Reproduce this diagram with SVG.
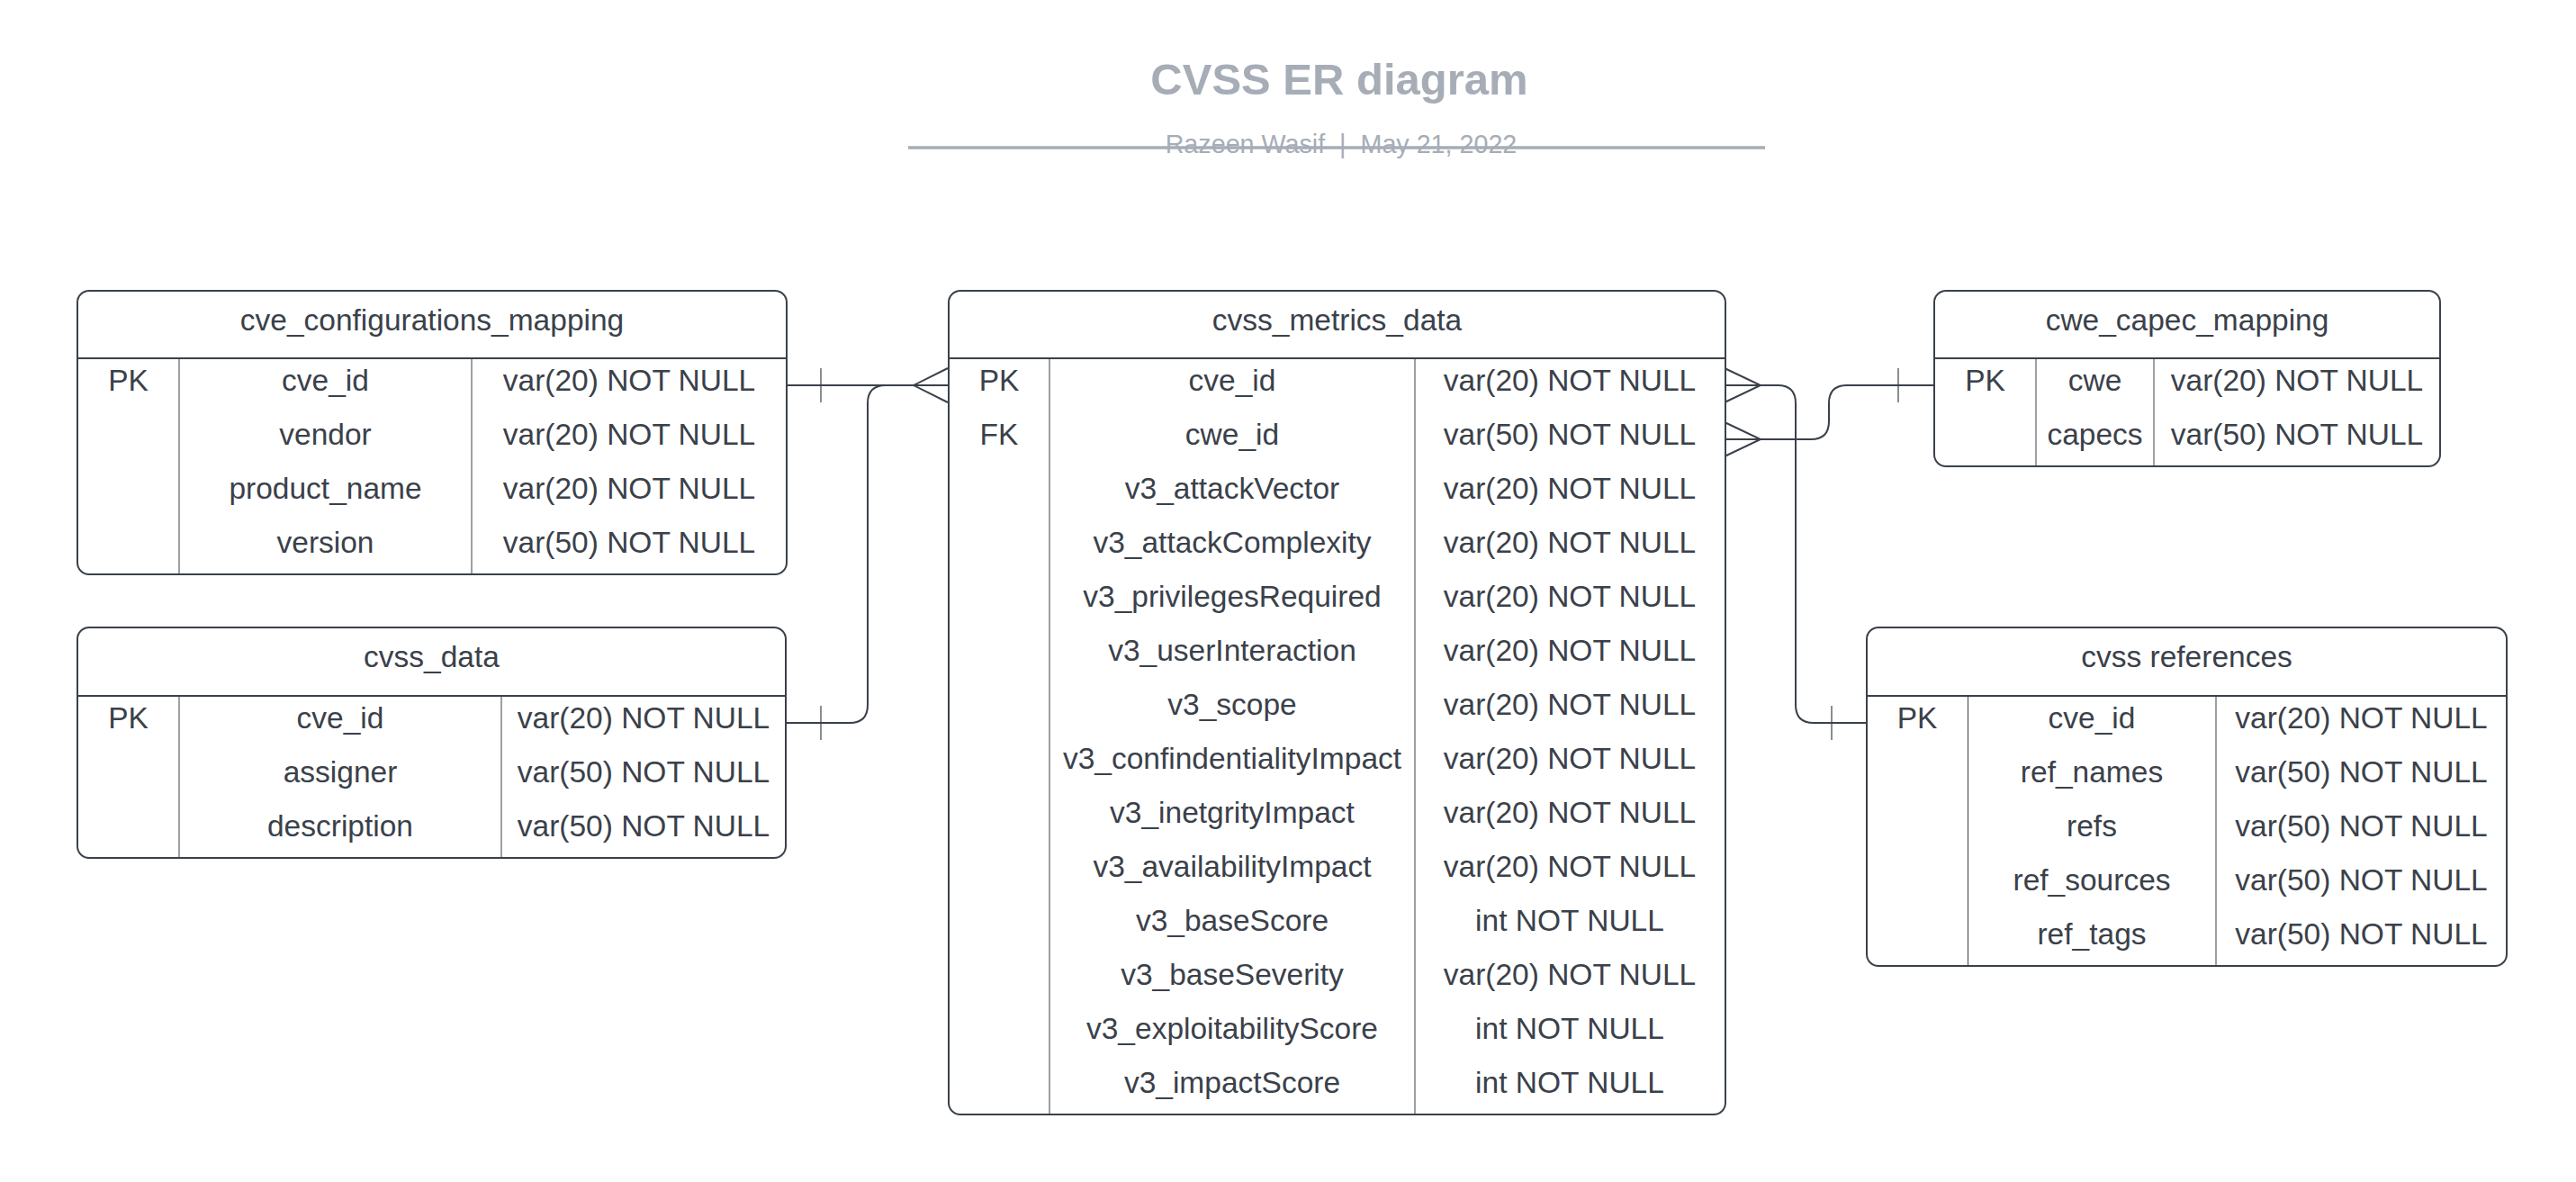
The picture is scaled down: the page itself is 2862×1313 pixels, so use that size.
<svg xmlns="http://www.w3.org/2000/svg" width="2862" height="1313" viewBox="0 0 2862 1313">
<style>
.box{fill:#ffffff;stroke:#3a414a;stroke-width:2}
.sep{stroke:#3a414a;stroke-width:2}
.col{stroke:#3a414a;stroke-width:1}
.t{font-family:"Liberation Sans",Arial,sans-serif;font-size:33.5px;fill:#3a414a;text-anchor:middle}
.title{font-family:"Liberation Sans",Arial,sans-serif;font-size:49px;font-weight:bold;fill:#a6adb7;text-anchor:middle}
.sub{font-family:"Liberation Sans",Arial,sans-serif;font-size:28.7px;fill:#a6adb7;text-anchor:middle}
.cn{fill:none;stroke:#3a414a;stroke-width:2}
.tk{fill:none;stroke:#3a414a;stroke-width:1.2}
</style>
<rect width="2862" height="1313" fill="#ffffff"/>
<g id="title">
<text class="title" x="1488" y="105">CVSS ER diagram</text>
<text class="sub" x="1490" y="170" xml:space="preserve">Razeen Wasif  |  May 21, 2022</text>
<line x1="1009" y1="164" x2="1961" y2="164" stroke="#a6adb7" stroke-width="3.5"/>
</g>
<g id="connectors">
<path class="cn" d="M874,428 H1053"/>
<path class="cn" d="M874,803 H944 Q964,803 964,783 V448 Q964,428 984,428 H1053"/>
<path class="cn" d="M1053,409 L1015,428 L1053,447"/>
<path class="tk" d="M912,409 V447"/>
<path class="tk" d="M912,784 V822"/>
<path class="cn" d="M1916,428 H1975 Q1995,428 1995,448 V783 Q1995,803 2015,803 H2074"/>
<path class="cn" d="M1916,409 L1956,428 L1916,447"/>
<path class="tk" d="M2035,784 V822"/>
<path class="cn" d="M1916,488 H2012 Q2032,488 2032,468 V448 Q2032,428 2052,428 H2149"/>
<path class="cn" d="M1916,469 L1956,488 L1916,507"/>
<path class="tk" d="M2109,409 V447"/>
</g>
<g id="cve_configurations_mapping">
<rect class="box" x="86" y="323" width="788" height="315" rx="13"/>
<line class="sep" x1="86" y1="398" x2="874" y2="398"/>
<line class="col" x1="199" y1="398" x2="199" y2="638"/>
<line class="col" x1="524" y1="398" x2="524" y2="638"/>
<text class="t" x="480" y="367">cve_configurations_mapping</text>
<text class="t" x="142.5" y="434">PK</text>
<text class="t" x="361.5" y="434">cve_id</text>
<text class="t" x="699" y="434">var(20) NOT NULL</text>
<text class="t" x="361.5" y="494">vendor</text>
<text class="t" x="699" y="494">var(20) NOT NULL</text>
<text class="t" x="361.5" y="554">product_name</text>
<text class="t" x="699" y="554">var(20) NOT NULL</text>
<text class="t" x="361.5" y="614">version</text>
<text class="t" x="699" y="614">var(50) NOT NULL</text>
</g>
<g id="cvss_data">
<rect class="box" x="86" y="697" width="787" height="256" rx="13"/>
<line class="sep" x1="86" y1="773" x2="873" y2="773"/>
<line class="col" x1="199" y1="773" x2="199" y2="953"/>
<line class="col" x1="557" y1="773" x2="557" y2="953"/>
<text class="t" x="479.5" y="741">cvss_data</text>
<text class="t" x="142.5" y="809">PK</text>
<text class="t" x="378" y="809">cve_id</text>
<text class="t" x="715" y="809">var(20) NOT NULL</text>
<text class="t" x="378" y="869">assigner</text>
<text class="t" x="715" y="869">var(50) NOT NULL</text>
<text class="t" x="378" y="929">description</text>
<text class="t" x="715" y="929">var(50) NOT NULL</text>
</g>
<g id="cvss_metrics_data">
<rect class="box" x="1054" y="323" width="863" height="915" rx="13"/>
<line class="sep" x1="1054" y1="398" x2="1917" y2="398"/>
<line class="col" x1="1166" y1="398" x2="1166" y2="1238"/>
<line class="col" x1="1572" y1="398" x2="1572" y2="1238"/>
<text class="t" x="1485.5" y="367">cvss_metrics_data</text>
<text class="t" x="1110" y="434">PK</text>
<text class="t" x="1110" y="494">FK</text>
<text class="t" x="1369" y="434">cve_id</text>
<text class="t" x="1744" y="434">var(20) NOT NULL</text>
<text class="t" x="1369" y="494">cwe_id</text>
<text class="t" x="1744" y="494">var(50) NOT NULL</text>
<text class="t" x="1369" y="554">v3_attackVector</text>
<text class="t" x="1744" y="554">var(20) NOT NULL</text>
<text class="t" x="1369" y="614">v3_attackComplexity</text>
<text class="t" x="1744" y="614">var(20) NOT NULL</text>
<text class="t" x="1369" y="674">v3_privilegesRequired</text>
<text class="t" x="1744" y="674">var(20) NOT NULL</text>
<text class="t" x="1369" y="734">v3_userInteraction</text>
<text class="t" x="1744" y="734">var(20) NOT NULL</text>
<text class="t" x="1369" y="794">v3_scope</text>
<text class="t" x="1744" y="794">var(20) NOT NULL</text>
<text class="t" x="1369" y="854">v3_confindentialityImpact</text>
<text class="t" x="1744" y="854">var(20) NOT NULL</text>
<text class="t" x="1369" y="914">v3_inetgrityImpact</text>
<text class="t" x="1744" y="914">var(20) NOT NULL</text>
<text class="t" x="1369" y="974">v3_availabilityImpact</text>
<text class="t" x="1744" y="974">var(20) NOT NULL</text>
<text class="t" x="1369" y="1034">v3_baseScore</text>
<text class="t" x="1744" y="1034">int NOT NULL</text>
<text class="t" x="1369" y="1094">v3_baseSeverity</text>
<text class="t" x="1744" y="1094">var(20) NOT NULL</text>
<text class="t" x="1369" y="1154">v3_exploitabilityScore</text>
<text class="t" x="1744" y="1154">int NOT NULL</text>
<text class="t" x="1369" y="1214">v3_impactScore</text>
<text class="t" x="1744" y="1214">int NOT NULL</text>
</g>
<g id="cwe_capec_mapping">
<rect class="box" x="2149" y="323" width="562" height="195" rx="13"/>
<line class="sep" x1="2149" y1="398" x2="2711" y2="398"/>
<line class="col" x1="2262" y1="398" x2="2262" y2="518"/>
<line class="col" x1="2393" y1="398" x2="2393" y2="518"/>
<text class="t" x="2430" y="367">cwe_capec_mapping</text>
<text class="t" x="2205.5" y="434">PK</text>
<text class="t" x="2327.5" y="434">cwe</text>
<text class="t" x="2552" y="434">var(20) NOT NULL</text>
<text class="t" x="2327.5" y="494">capecs</text>
<text class="t" x="2552" y="494">var(50) NOT NULL</text>
</g>
<g id="cvss_references">
<rect class="box" x="2074" y="697" width="711" height="376" rx="13"/>
<line class="sep" x1="2074" y1="773" x2="2785" y2="773"/>
<line class="col" x1="2186.5" y1="773" x2="2186.5" y2="1073"/>
<line class="col" x1="2462" y1="773" x2="2462" y2="1073"/>
<text class="t" x="2429.5" y="741">cvss references</text>
<text class="t" x="2130" y="809">PK</text>
<text class="t" x="2324" y="809">cve_id</text>
<text class="t" x="2623.5" y="809">var(20) NOT NULL</text>
<text class="t" x="2324" y="869">ref_names</text>
<text class="t" x="2623.5" y="869">var(50) NOT NULL</text>
<text class="t" x="2324" y="929">refs</text>
<text class="t" x="2623.5" y="929">var(50) NOT NULL</text>
<text class="t" x="2324" y="989">ref_sources</text>
<text class="t" x="2623.5" y="989">var(50) NOT NULL</text>
<text class="t" x="2324" y="1049">ref_tags</text>
<text class="t" x="2623.5" y="1049">var(50) NOT NULL</text>
</g>
</svg>
